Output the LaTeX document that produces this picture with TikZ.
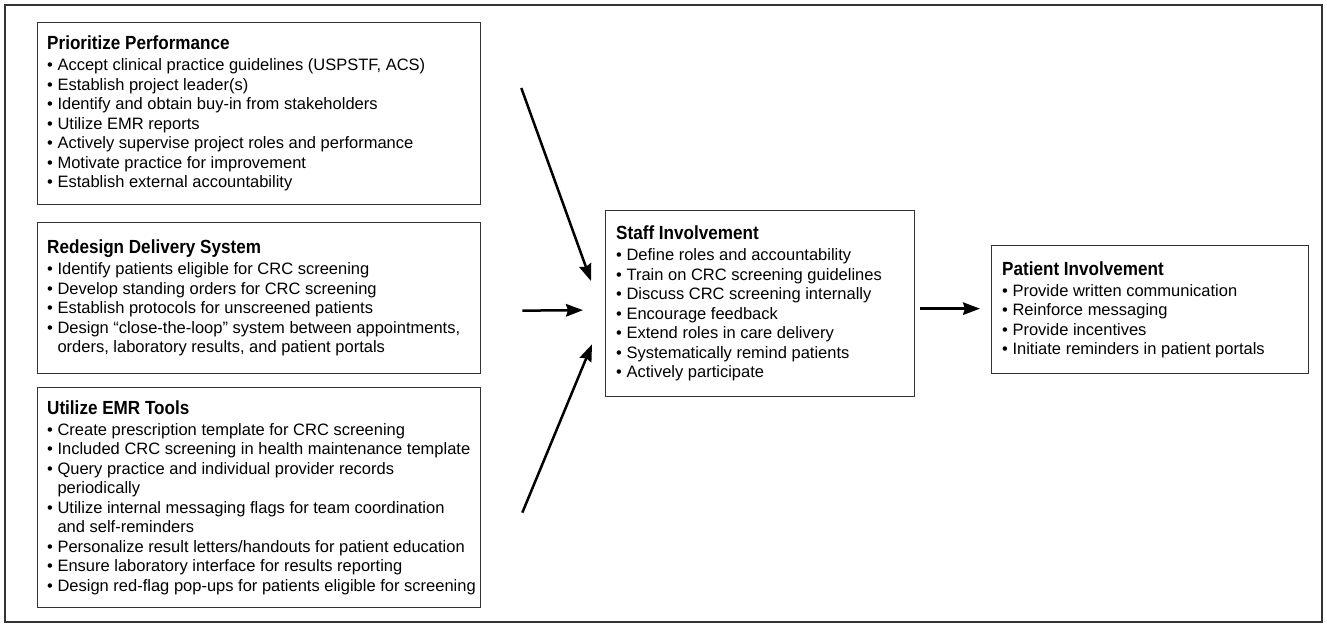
\documentclass[tikz,border=0pt]{standalone}
\usepackage{fontspec}
\setmainfont{Liberation Sans}
\newfontfamily\titlefont[FakeStretch=0.9]{Liberation Sans}
\usetikzlibrary{arrows.meta,calc}
\newcommand\boxtitle[1]{{\titlefont\bfseries\fontsize{19}{19.5}\selectfont #1}\\[1.5pt]}
\newcommand\itm{\textbullet\ }
\newcommand\cont{\phantom{\textbullet\ }}
\begin{document}
\begin{tikzpicture}[x=1pt,y=-1pt,
  frame/.style={draw=black!80, line width=1.1pt},
  panel/.style={draw=black!80, line width=1.3pt, anchor=north west, inner sep=0pt},
  body/.style={anchor=west, align=left, inner sep=0pt, font=\fontsize{16.5}{19.5}\selectfont},
  flow/.style={line width=2.5pt, -{Stealth[length=17pt,width=12.5pt,inset=2pt]}}
]
\useasboundingbox (0,0) rectangle (1327,628);
\draw[frame] (5,5) rectangle (1322,622);

% panels
\node[panel, minimum width=443pt, minimum height=182pt] (pp) at (37,22) {};
\node[panel, minimum width=443pt, minimum height=151pt] (rd) at (37,222) {};
\node[panel, minimum width=443pt, minimum height=220pt] (emr) at (37,387) {};
\node[panel, minimum width=309pt, minimum height=186pt] (staff) at (605,210) {};
\node[panel, minimum width=317pt, minimum height=128pt] (pat) at (991,245) {};

% texts
\node[body] (pp-t) at ($(pp.west)+(10,0)$) {\boxtitle{Prioritize Performance}
\itm Accept clinical practice guidelines (USPSTF, ACS)\\
\itm Establish project leader(s)\\
\itm Identify and obtain buy-in from stakeholders\\
\itm Utilize EMR reports\\
\itm Actively supervise project roles and performance\\
\itm Motivate practice for improvement\\
\itm Establish external accountability};

\node[body] (rd-t) at ($(rd.west)+(10,0)$) {\boxtitle{Redesign Delivery System}
\itm Identify patients eligible for CRC screening\\
\itm Develop standing orders for CRC screening\\
\itm Establish protocols for unscreened patients\\
\itm Design “close-the-loop” system between appointments,\\
\cont orders, laboratory results, and patient portals};

\node[body] (emr-t) at ($(emr.west)+(10,0)$) {\boxtitle{Utilize EMR Tools}
\itm Create prescription template for CRC screening\\
\itm Included CRC screening in health maintenance template\\
\itm Query practice and individual provider records\\
\cont periodically\\
\itm Utilize internal messaging flags for team coordination\\
\cont and self-reminders\\
\itm Personalize result letters/handouts for patient education\\
\itm Ensure laboratory interface for results reporting\\
\itm Design red-flag pop-ups for patients eligible for screening};

\node[body] (staff-t) at ($(staff.west)+(11,0)$) {\boxtitle{Staff Involvement}
\itm Define roles and accountability\\
\itm Train on CRC screening guidelines\\
\itm Discuss CRC screening internally\\
\itm Encourage feedback\\
\itm Extend roles in care delivery\\
\itm Systematically remind patients\\
\itm Actively participate};

\node[body] (pat-t) at ($(pat.west)+(11,0)$) {\boxtitle{Patient Involvement}
\itm Provide written communication\\
\itm Reinforce messaging\\
\itm Provide incentives\\
\itm Initiate reminders in patient portals};

% connector ends
\coordinate (a1s) at ($(pp.north east)+(40,66)$);
\coordinate (a1e) at ($(staff.north west)+(-14,71)$);
\coordinate (a2s) at ($(rd.east)+(41,12.5)$);
\coordinate (a2e) at ($(staff.west)+(-22,6.5)$);
\coordinate (a3s) at ($(emr.east)+(41,15)$);
\coordinate (a3e) at ($(staff.south west)+(-13,-53)$);
\coordinate (a4s) at ($(staff.east)+(5,5)$);
\coordinate (a4e) at ($(pat.west)+(-11,-1)$);

\draw[flow] (a1s) -- (a1e);
\draw[flow] (a2s) -- (a2e);
\draw[flow] (a3s) -- (a3e);
\draw[flow] (a4s) -- (a4e);
\end{tikzpicture}
\end{document}
